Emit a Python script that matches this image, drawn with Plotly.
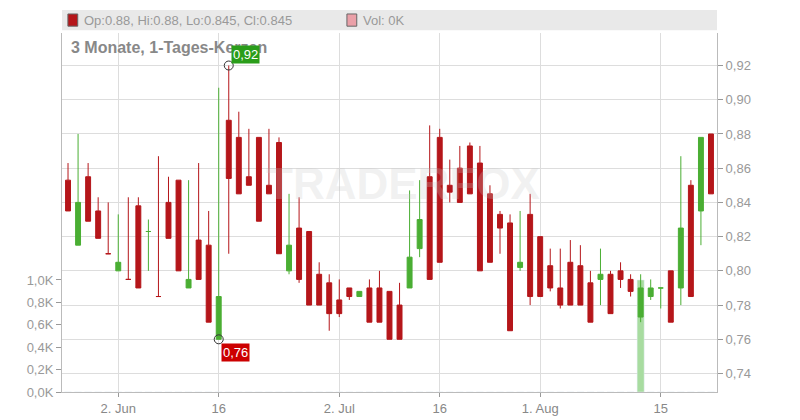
import plotly.graph_objects as go

# daily candles, index 0..64
opens = [0.853, 0.815, 0.855, 0.835, 0.810, 0.800, 0.795, 0.838, 0.823, 0.785,
         0.840, 0.853, 0.790, 0.818, 0.815, 0.760, 0.888, 0.878, 0.855, 0.878,
         0.850, 0.875, 0.800, 0.825, 0.823, 0.798, 0.793, 0.783, 0.790, 0.785,
         0.790, 0.790, 0.788, 0.780, 0.790, 0.813, 0.855, 0.878, 0.850, 0.860,
         0.873, 0.863, 0.845, 0.833, 0.828, 0.802, 0.833, 0.820, 0.803, 0.790,
         0.805, 0.803, 0.793, 0.795, 0.798, 0.800, 0.795, 0.773, 0.785, 0.790,
         0.800, 0.790, 0.850, 0.835, 0.880]
highs = [0.863, 0.880, 0.863, 0.843, 0.840, 0.833, 0.843, 0.843, 0.830, 0.867,
         0.855, 0.853, 0.853, 0.863, 0.835, 0.907, 0.920, 0.893, 0.883, 0.878,
         0.883, 0.878, 0.845, 0.843, 0.823, 0.805, 0.798, 0.795, 0.790, 0.788,
         0.795, 0.800, 0.788, 0.793, 0.847, 0.853, 0.885, 0.883, 0.865, 0.873,
         0.875, 0.873, 0.850, 0.835, 0.833, 0.835, 0.845, 0.820, 0.813, 0.813,
         0.818, 0.815, 0.800, 0.813, 0.800, 0.805, 0.798, 0.798, 0.795, 0.790,
         0.800, 0.867, 0.853, 0.878, 0.880]
lows = [0.835, 0.815, 0.829, 0.819, 0.810, 0.800, 0.795, 0.790, 0.800, 0.785,
        0.819, 0.800, 0.790, 0.795, 0.770, 0.760, 0.810, 0.845, 0.850, 0.829,
        0.845, 0.810, 0.798, 0.793, 0.780, 0.780, 0.765, 0.773, 0.783, 0.785,
        0.770, 0.770, 0.760, 0.760, 0.790, 0.808, 0.795, 0.805, 0.840, 0.840,
        0.845, 0.800, 0.805, 0.810, 0.765, 0.800, 0.780, 0.785, 0.788, 0.778,
        0.780, 0.780, 0.770, 0.780, 0.775, 0.790, 0.785, 0.770, 0.783, 0.778,
        0.770, 0.780, 0.785, 0.815, 0.845]
closes = [0.835, 0.840, 0.829, 0.819, 0.810, 0.805, 0.795, 0.790, 0.823, 0.785,
          0.819, 0.800, 0.795, 0.795, 0.770, 0.785, 0.854, 0.845, 0.850, 0.829,
          0.845, 0.810, 0.815, 0.795, 0.780, 0.780, 0.775, 0.775, 0.785, 0.788,
          0.770, 0.770, 0.760, 0.760, 0.808, 0.830, 0.795, 0.805, 0.846, 0.840,
          0.845, 0.800, 0.805, 0.825, 0.765, 0.805, 0.785, 0.785, 0.790, 0.780,
          0.780, 0.780, 0.770, 0.798, 0.775, 0.795, 0.788, 0.790, 0.790, 0.790,
          0.770, 0.825, 0.785, 0.878, 0.845]
volumes = [0] * 57 + [1000] + [0] * 7

tick_pos = [5, 15, 27, 37, 47, 59]
tick_text = ["2. Jun", "16", "2. Jul", "16", "1. Aug", "15"]
price_ticks = [0.74, 0.76, 0.78, 0.80, 0.82, 0.84, 0.86, 0.88, 0.90, 0.92]
vol_ticks = [0, 200, 400, 600, 800, 1000]
vol_text = ["0,0K", "0,2K", "0,4K", "0,6K", "0,8K", "1,0K"]

RED = "#b5161a"
GREEN = "#4aae33"
GRID = "#dddddd"
x = list(range(len(opens)))

fig = go.Figure()
fig.add_trace(go.Bar(x=x, y=volumes, marker_color="#a8dca0", width=0.7,
                     yaxis="y", showlegend=False))
fig.add_trace(go.Candlestick(
    x=x, open=opens, high=highs, low=lows, close=closes, yaxis="y2",
    increasing=dict(line=dict(color=GREEN, width=1), fillcolor=GREEN),
    decreasing=dict(line=dict(color=RED, width=1), fillcolor=RED),
    whiskerwidth=0, showlegend=False, hoverinfo="skip"))

# high / low markers
i_hi = highs.index(max(highs))
i_lo = lows.index(min(lows))
fig.add_trace(go.Scatter(x=[i_hi, i_lo], y=[highs[i_hi], lows[i_lo]], yaxis="y2",
                         mode="markers", showlegend=False,
                         marker=dict(size=9, color="rgba(0,0,0,0)",
                                     line=dict(color="#333", width=1))))

# page body has an 8px margin, so the figure is a bit smaller than the window
font = dict(family="Liberation Sans, Arial", size=13, color="#999")
fig.update_layout(
    width=792, height=412, margin=dict(l=54, r=83, t=25, b=28),
    paper_bgcolor="white", plot_bgcolor="white", separators=",.",
    font=font, bargap=0.3,
    xaxis=dict(range=[-0.6, 64.6], tickvals=tick_pos, ticktext=tick_text,
               showgrid=True, gridcolor=GRID, ticks="outside", ticklen=4,
               tickcolor="#999", showline=True, linecolor="#bbb", automargin=False,
               rangeslider=dict(visible=False), zeroline=False,
               tickfont=dict(size=13, color="#888")),
    yaxis=dict(range=[0, 3205], tickvals=vol_ticks, ticktext=vol_text,
               showgrid=False, ticks="outside", ticklen=5, tickcolor="#999",
               showline=True, linecolor="#bbb", zeroline=False, automargin=False,
               tickfont=dict(size=13, color="#999")),
    yaxis2=dict(range=[0.7292, 0.939], overlaying="y", side="right",
                tickvals=price_ticks, tickformat=".2f", showgrid=True,
                gridcolor=GRID, ticks="outside", ticklen=5, tickcolor="#999",
                showline=True, linecolor="#bbb", zeroline=False, automargin=False,
                tickfont=dict(size=13, color="#999")),
)

# header bar with legend
fig.add_shape(type="rect", xref="paper", yref="paper", x0=0, x1=1,
              y0=1.008, y1=1.064, fillcolor="#e9e9e9", line_width=0, layer="below")
fig.add_shape(type="rect", xref="paper", yref="paper", x0=0.009, x1=0.024,
              y0=1.019, y1=1.053, fillcolor=RED, line=dict(color="#666", width=1))
fig.add_shape(type="rect", xref="paper", yref="paper", x0=0.435, x1=0.450,
              y0=1.019, y1=1.053, fillcolor="#eaa0a8", line=dict(color="#666", width=1))
fig.add_annotation(xref="paper", yref="paper", x=0.03, y=1.036, xanchor="left",
                   yanchor="middle", showarrow=False,
                   text="Op:0.88, Hi:0.88, Lo:0.845, Cl:0.845",
                   font=dict(size=13, color="#999"))
fig.add_annotation(xref="paper", yref="paper", x=0.456, y=1.036, xanchor="left",
                   yanchor="middle", showarrow=False, text="Vol: 0K",
                   font=dict(size=13, color="#999"))
fig.add_annotation(xref="paper", yref="paper", x=0.01, y=0.99, xanchor="left",
                   yanchor="top", showarrow=False,
                   text="<b>3 Monate, 1-Tages-Kerzen</b>",
                   font=dict(size=16, color="#888"))

# watermark
fig.add_annotation(xref="paper", yref="paper", x=0.52, y=0.58, showarrow=False,
                   text="<b>TRADERFOX</b>", font=dict(size=44, color="rgba(200,200,200,0.25)"))

# high / low labels
fig.add_annotation(x=i_hi, y=highs[i_hi], yref="y2", xanchor="left", yanchor="bottom",
                   xshift=2, yshift=2, showarrow=False, text="0,92", bgcolor="#2a9d1a",
                   font=dict(size=13, color="white"), borderpad=1)
fig.add_annotation(x=i_lo, y=lows[i_lo], yref="y2", xanchor="left", yanchor="top",
                   xshift=2, yshift=-4, showarrow=False, text="0,76", bgcolor="#cc0000",
                   font=dict(size=13, color="white"), borderpad=1)

fig.write_html("out.html")
